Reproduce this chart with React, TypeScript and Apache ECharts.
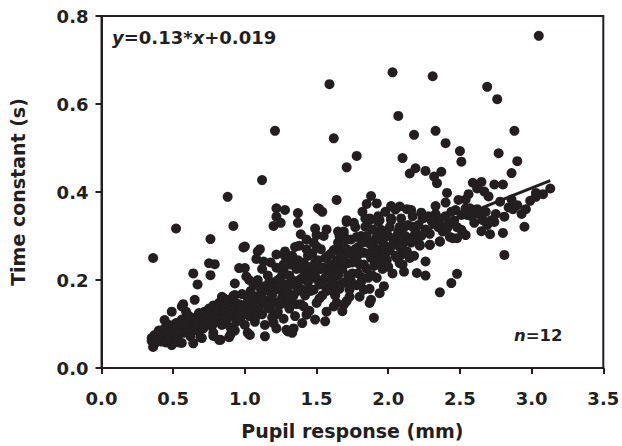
import React, { useEffect, useRef } from 'react';
import * as echarts from 'echarts';

const xTickLabels = ['0.0', '0.5', '1.0', '1.5', '2.0', '2.5', '3.0', '3.5'];
const yTickLabels = ['0.0', '0.2', '0.4', '0.6', '0.8'];

const fitSlope = 0.13;
const fitIntercept = 0.019;
const fitRange = [0.35, 3.13];

const upperPoints: number[][] = [
  [3.05, 0.755], [1.59, 0.645], [2.03, 0.672], [2.31, 0.663], [2.69, 0.639], [2.76, 0.611],
  [2.07, 0.573], [1.62, 0.522], [2.18, 0.53], [2.33, 0.539], [2.88, 0.539], [1.21, 0.539],
  [2.4, 0.511], [1.78, 0.482], [1.71, 0.456], [2.1, 0.477], [2.5, 0.493], [2.51, 0.469],
  [2.77, 0.488], [2.9, 0.47], [2.86, 0.443], [2.15, 0.442], [2.19, 0.454], [2.26, 0.448],
  [2.32, 0.435], [2.37, 0.446], [2.34, 0.42], [2.41, 0.398], [2.59, 0.421], [2.65, 0.423],
  [2.62, 0.408], [2.67, 0.401], [2.74, 0.417], [2.8, 0.417], [3.03, 0.398], [3.03, 0.389],
  [3.13, 0.408], [1.64, 0.382], [1.52, 0.361], [1.88, 0.391], [1.85, 0.373], [1.92, 0.374],
  [1.82, 0.355], [2.02, 0.368], [2.08, 0.367], [2.13, 0.361], [2.16, 0.359], [2.23, 0.353],
  [2.33, 0.368], [2.4, 0.376], [2.49, 0.382], [2.54, 0.383], [2.78, 0.378], [2.86, 0.383],
  [2.47, 0.359], [2.54, 0.363], [2.57, 0.363], [2.62, 0.361], [2.87, 0.361], [2.96, 0.361],
  [2.51, 0.348], [2.55, 0.348], [2.81, 0.344], [2.66, 0.336], [2.72, 0.336], [2.69, 0.325],
  [2.74, 0.332], [2.95, 0.321], [2.65, 0.311], [2.71, 0.304], [2.8, 0.307], [2.51, 0.314],
  [2.54, 0.302], [2.48, 0.295], [2.81, 0.257], [2.48, 0.214], [2.44, 0.193], [2.36, 0.172],
  [2.26, 0.242], [2.2, 0.216], [2.26, 0.21], [2.22, 0.278], [2.29, 0.28], [2.36, 0.288],
  [2.45, 0.295], [2.52, 0.307], [1.9, 0.114], [1.88, 0.155], [1.87, 0.148], [1.94, 0.17],
  [1.97, 0.186], [1.49, 0.11], [1.56, 0.106], [1.43, 0.121], [1.68, 0.129], [1.64, 0.148],
  [1.71, 0.152], [2.11, 0.219], [2.08, 0.238], [2.09, 0.257], [1.8, 0.162], [1.73, 0.162],
];

const leftPoints: number[][] = [
  [0.36, 0.25], [0.52, 0.317], [0.76, 0.293], [0.92, 0.323], [0.88, 0.389], [1.12, 0.427],
  [1.22, 0.363], [1.28, 0.359], [1.37, 0.352], [1.51, 0.363], [1.22, 0.344], [1.25, 0.33],
  [1.2, 0.323], [1.37, 0.33], [1.39, 0.304], [1.54, 0.355], [1.49, 0.317], [1.5, 0.302],
  [1.57, 0.315], [1.65, 0.31], [1.69, 0.302], [1.71, 0.332], [0.99, 0.274], [0.75, 0.238],
  [0.79, 0.236], [0.76, 0.211], [0.64, 0.215], [0.67, 0.19], [0.65, 0.155], [0.57, 0.145],
  [0.59, 0.128], [0.49, 0.128], [0.44, 0.109], [0.93, 0.192], [0.96, 0.227], [0.84, 0.162],
  [0.93, 0.166], [0.35, 0.068], [0.36, 0.048], [0.42, 0.06], [0.49, 0.052], [0.54, 0.058],
  [0.64, 0.056], [0.69, 0.07], [0.78, 0.073], [0.82, 0.064], [0.89, 0.07], [0.93, 0.085],
  [1.09, 0.265], [1.08, 0.248], [1.13, 0.242], [1.22, 0.258], [1.28, 0.254], [1.27, 0.223],
  [1.26, 0.212], [1.15, 0.186], [1.2, 0.178], [1.06, 0.159], [0.85, 0.159], [0.92, 0.164],
  [0.78, 0.133], [0.71, 0.125], [0.69, 0.11], [0.56, 0.14], [0.385, 0.072], [1.0, 0.227],
  [1.01, 0.208], [0.5, 0.057], [0.56, 0.057], [0.7, 0.068], [0.78, 0.08], [0.83, 0.064],
  [0.9, 0.076], [1.02, 0.08], [1.14, 0.072], [1.2, 0.102], [1.29, 0.087], [1.33, 0.08],
  [1.4, 0.102], [1.035, 0.075], [1.3, 0.083], [1.34, 0.09], [1.0, 0.276], [1.105, 0.27],
  [1.43, 0.27], [1.5, 0.276], [1.66, 0.273], [1.62, 0.14], [1.69, 0.144], [1.83, 0.178],
];

const bandPoints: number[][] = [
  [0.35, 0.062], [0.37, 0.075], [0.38, 0.058], [0.4, 0.085], [0.41, 0.066], [0.43, 0.072],
  [0.44, 0.09], [0.45, 0.058], [0.46, 0.08], [0.47, 0.098], [0.48, 0.07], [0.5, 0.088],
  [0.51, 0.075], [0.52, 0.102], [0.53, 0.066], [0.55, 0.092], [0.56, 0.11], [0.57, 0.08],
  [0.58, 0.098], [0.6, 0.088], [0.61, 0.118], [0.62, 0.072], [0.63, 0.102], [0.64, 0.092],
  [0.66, 0.115], [0.67, 0.085], [0.68, 0.125], [0.69, 0.098], [0.7, 0.108],
  [0.71, 0.09], [0.72, 0.128], [0.73, 0.112], [0.74, 0.1], [0.75, 0.135], [0.76, 0.118],
  [0.77, 0.095], [0.78, 0.142], [0.79, 0.12], [0.8, 0.105], [0.81, 0.132], [0.82, 0.148],
  [0.83, 0.115], [0.84, 0.098], [0.85, 0.128], [0.86, 0.14], [0.87, 0.108], [0.88, 0.155],
  [0.89, 0.125], [0.9, 0.092], [0.91, 0.138], [0.92, 0.118], [0.93, 0.15], [0.94, 0.105],
  [0.95, 0.132], [0.96, 0.145], [0.97, 0.115], [0.98, 0.168], [0.99, 0.13], [1.0, 0.098],
  [1.01, 0.145], [1.02, 0.16], [1.03, 0.118], [1.04, 0.175], [1.05, 0.135], [1.06, 0.19],
  [1.07, 0.105], [1.08, 0.155], [1.09, 0.2], [1.1, 0.14], [1.11, 0.168], [1.12, 0.122],
  [1.13, 0.185], [1.14, 0.098], [1.15, 0.152], [1.16, 0.21], [1.17, 0.135], [1.18, 0.172],
  [1.19, 0.115], [1.2, 0.195], [1.21, 0.148], [1.22, 0.228], [1.23, 0.128], [1.24, 0.178],
  [1.25, 0.205], [1.26, 0.16], [1.27, 0.112], [1.28, 0.19], [1.29, 0.24], [1.3, 0.145],
  [1.03, 0.2], [1.08, 0.118], [1.12, 0.225], [1.15, 0.178], [1.18, 0.24], [1.22, 0.09],
  [1.25, 0.145], [1.28, 0.265], [1.3, 0.175], [1.06, 0.128],
  [1.31, 0.21], [1.32, 0.16], [1.33, 0.255], [1.34, 0.19], [1.35, 0.118], [1.36, 0.225],
  [1.37, 0.175], [1.38, 0.278], [1.39, 0.145], [1.4, 0.205], [1.41, 0.24], [1.42, 0.165],
  [1.43, 0.292], [1.44, 0.195], [1.45, 0.13], [1.46, 0.222], [1.47, 0.26], [1.48, 0.178],
  [1.49, 0.208], [1.5, 0.148], [1.51, 0.245], [1.52, 0.19], [1.53, 0.27], [1.54, 0.165],
  [1.55, 0.228], [1.56, 0.205], [1.57, 0.128], [1.58, 0.255], [1.59, 0.185], [1.6, 0.235],
  [1.32, 0.235], [1.35, 0.275], [1.38, 0.2], [1.42, 0.215], [1.45, 0.18], [1.48, 0.285],
  [1.52, 0.158], [1.55, 0.3], [1.58, 0.21], [1.36, 0.145], [1.44, 0.255], [1.5, 0.225],
  [1.61, 0.2], [1.62, 0.268], [1.63, 0.165], [1.64, 0.245], [1.65, 0.285], [1.66, 0.18],
  [1.67, 0.258], [1.68, 0.225], [1.69, 0.31], [1.7, 0.195], [1.71, 0.27], [1.72, 0.238],
  [1.73, 0.178], [1.74, 0.292], [1.75, 0.215], [1.76, 0.255], [1.77, 0.32], [1.78, 0.188],
  [1.79, 0.275], [1.8, 0.235], [1.81, 0.3], [1.82, 0.205], [1.83, 0.262], [1.84, 0.34],
  [1.85, 0.225], [1.86, 0.285], [1.87, 0.18], [1.88, 0.25], [1.89, 0.315], [1.9, 0.232],
  [1.62, 0.22], [1.66, 0.3], [1.7, 0.24], [1.74, 0.198], [1.78, 0.245], [1.82, 0.285],
  [1.86, 0.205], [1.9, 0.27], [1.64, 0.188], [1.76, 0.33],
  [1.91, 0.29], [1.92, 0.205], [1.93, 0.345], [1.94, 0.258], [1.95, 0.31], [1.96, 0.225],
  [1.97, 0.28], [1.98, 0.355], [1.99, 0.245], [2.0, 0.3], [2.01, 0.268], [2.02, 0.335],
  [2.03, 0.215], [2.04, 0.29], [2.05, 0.36], [2.06, 0.25], [2.07, 0.31], [2.08, 0.275],
  [2.09, 0.34], [2.1, 0.235], [2.12, 0.3], [2.13, 0.265], [2.14, 0.325], [2.16, 0.285],
  [2.17, 0.345], [2.18, 0.255], [2.19, 0.31], [2.2, 0.29],
  [2.21, 0.325], [2.23, 0.3], [2.24, 0.34], [2.26, 0.315], [2.28, 0.345], [2.29, 0.305],
  [2.31, 0.33], [2.33, 0.35], [2.35, 0.32], [2.36, 0.34], [2.38, 0.31], [2.4, 0.345],
  [2.42, 0.325], [2.44, 0.355], [2.46, 0.335], [2.48, 0.32],
  [2.58, 0.345], [2.6, 0.33], [2.63, 0.35], [2.68, 0.355], [2.75, 0.35], [2.84, 0.365],
  [2.9, 0.37], [2.93, 0.35], [2.99, 0.38], [3.08, 0.395], [2.7, 0.39], [2.56, 0.395],
  [2.02, 0.338], [2.08, 0.321], [2.17, 0.321], [2.24, 0.34], [2.3, 0.336], [2.36, 0.321],
  [2.41, 0.317], [2.43, 0.298], [1.84, 0.321], [1.87, 0.336], [1.93, 0.332], [1.95, 0.314],
  [1.78, 0.298], [1.83, 0.291], [1.87, 0.287], [1.92, 0.298], [1.97, 0.302], [2.22, 0.28],
  [2.29, 0.28], [2.36, 0.287], [1.71, 0.336], [1.87, 0.34], [1.94, 0.336], [2.02, 0.34],
];

const corePoints: number[][] = [
  [1.02, 0.13], [1.05, 0.165], [1.07, 0.145], [1.1, 0.185], [1.11, 0.125], [1.13, 0.155],
  [1.16, 0.14], [1.17, 0.195], [1.19, 0.165], [1.21, 0.12], [1.23, 0.2], [1.24, 0.15],
  [1.26, 0.185], [1.27, 0.235], [1.29, 0.17], [1.31, 0.135], [1.33, 0.2], [1.34, 0.165],
  [1.36, 0.195], [1.37, 0.245], [1.39, 0.18], [1.4, 0.225], [1.41, 0.14], [1.43, 0.2],
  [1.44, 0.23], [1.46, 0.175], [1.47, 0.205], [1.49, 0.24], [1.51, 0.2], [1.53, 0.225],
  [1.54, 0.19], [1.56, 0.25], [1.57, 0.175], [1.59, 0.22], [1.6, 0.26], [1.61, 0.175],
  [1.63, 0.23], [1.65, 0.21], [1.67, 0.19], [1.68, 0.25], [1.7, 0.29], [1.72, 0.21],
  [1.73, 0.26], [1.75, 0.24], [1.77, 0.27], [1.79, 0.215], [1.8, 0.26], [1.81, 0.195],
  [1.83, 0.235], [1.85, 0.3], [1.86, 0.26], [1.88, 0.28], [1.89, 0.21], [1.91, 0.25],
  [1.93, 0.27], [1.95, 0.24], [1.96, 0.29], [1.98, 0.26], [2.0, 0.23], [2.01, 0.32],
  [2.03, 0.28], [2.05, 0.255], [2.06, 0.3], [2.1, 0.28], [2.11, 0.32], [2.14, 0.29],
  [2.15, 0.25], [2.18, 0.3], [0.6, 0.1], [0.65, 0.1], [0.72, 0.105], [0.8, 0.12],
  [0.86, 0.12], [0.9, 0.13], [0.95, 0.12], [0.98, 0.14],
];

const INK = '#231f20';
const FONT = '"DejaVu Sans", "Liberation Sans", Arial, sans-serif';

export default function App() {
  const ref = useRef<HTMLDivElement>(null);
  useEffect(() => {
    document.body.style.margin = '0';
    if (!ref.current) return;
    const chart = echarts.init(ref.current, null, { renderer: 'svg' });
    const allPoints = [...upperPoints, ...leftPoints, ...bandPoints, ...corePoints];
    const richStyle = (size: number) => ({
      i: { fontFamily: FONT, fontSize: size, fontWeight: 'bold', fontStyle: 'italic', color: INK },
      n: { fontFamily: FONT, fontSize: size, fontWeight: 'bold', color: INK },
    });
    chart.setOption({
      animation: false,
      backgroundColor: '#ffffff',
      textStyle: { fontFamily: FONT },
      title: [
        {
          text: '{i|y}{n|=0.13*}{i|x}{n|+0.019}',
          left: 107,
          top: 23,
          textStyle: { rich: richStyle(18) },
        },
        {
          text: '{i|n}{n|=12}',
          left: 509,
          top: 322,
          textStyle: { rich: richStyle(16.5) },
        },
      ],
      grid: {
        left: 101.5,
        right: 18.7,
        top: 16,
        bottom: 78,
        show: true,
        borderWidth: 2,
        borderColor: INK,
        backgroundColor: 'transparent',
        outerBoundsMode: 'none',
      },
      xAxis: {
        type: 'value',
        min: 0,
        max: 3.5,
        interval: 0.5,
        name: 'Pupil response (mm)',
        nameLocation: 'middle',
        nameGap: 53,
        nameTextStyle: { fontFamily: FONT, fontSize: 19, fontWeight: 'bold', color: INK },
        axisLine: { show: true, lineStyle: { color: INK, width: 2 } },
        axisTick: { show: true, inside: false, length: 6, lineStyle: { color: INK, width: 2 } },
        axisLabel: {
          margin: 21,
          fontFamily: FONT,
          fontSize: 18,
          fontWeight: 'bold',
          color: INK,
          formatter: (v: number) => xTickLabels[Math.round(v / 0.5)] ?? '',
        },
        splitLine: { show: false },
      },
      yAxis: {
        type: 'value',
        min: 0,
        max: 0.8,
        interval: 0.2,
        name: 'Time constant (s)',
        nameLocation: 'middle',
        nameGap: 74,
        nameRotate: 90,
        nameTextStyle: { fontFamily: FONT, fontSize: 19, fontWeight: 'bold', color: INK },
        axisLine: { show: true, lineStyle: { color: INK, width: 2 } },
        axisTick: { show: true, inside: false, length: 6, lineStyle: { color: INK, width: 2 } },
        axisLabel: {
          margin: 13,
          fontFamily: FONT,
          fontSize: 18,
          fontWeight: 'bold',
          color: INK,
          formatter: (v: number) => yTickLabels[Math.round(v / 0.2)] ?? '',
        },
        splitLine: { show: false },
      },
      series: [
        {
          type: 'scatter',
          data: allPoints,
          symbol: 'circle',
          symbolSize: 10,
          itemStyle: { color: INK, opacity: 1 },
          z: 2,
        },
        {
          type: 'line',
          data: fitRange.map((x) => [x, fitSlope * x + fitIntercept]),
          symbol: 'none',
          lineStyle: { color: INK, width: 3 },
          z: 3,
        },
      ],
    });
    return () => chart.dispose();
  }, []);
  return <div ref={ref} style={{ width: 622, height: 446 }} />;
}
